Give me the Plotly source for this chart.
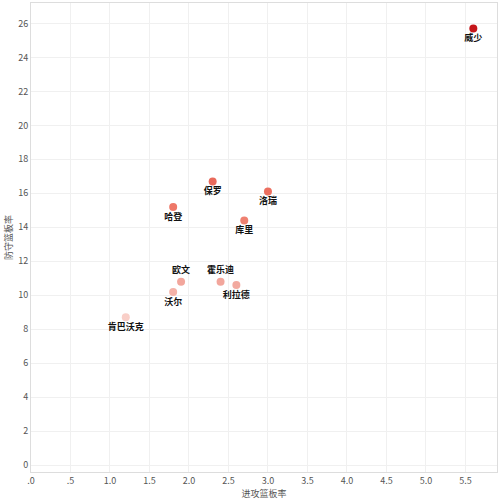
"""Scatter: offensive vs defensive rebound rate of point guards."""

import plotly.graph_objects as go

# data
players = ["威少", "保罗", "洛瑞", "哈登", "库里", "欧文", "霍乐迪", "利拉德", "沃尔", "肯巴沃克"]
off_reb = [5.6, 2.3, 3.0, 1.8, 2.7, 1.9, 2.4, 2.6, 1.8, 1.2]
def_reb = [25.7, 16.7, 16.1, 15.2, 14.4, 10.8, 10.8, 10.6, 10.2, 8.7]
label_pos = ["bottom center"] * 5 + ["top center", "top center"] + ["bottom center"] * 3

x_ticks = [0, 0.5, 1, 1.5, 2, 2.5, 3, 3.5, 4, 4.5, 5, 5.5]
x_tick_text = [".0", ".5", "1.0", "1.5", "2.0", "2.5", "3.0", "3.5", "4.0", "4.5", "5.0", "5.5"]
y_ticks = list(range(0, 27, 2))

FONT = "Noto Sans CJK SC"

fig = go.Figure()
fig.add_trace(
    go.Scatter(
        x=off_reb,
        y=def_reb,
        mode="markers+text",
        text=players,
        textposition=label_pos,
        textfont=dict(family=FONT, size=9, color="#111111", weight="bold"),
        marker=dict(
            size=8,
            color=def_reb,
            colorscale=[[0, "#f9cfc8"], [0.12, "#f2a79d"], [0.4, "#ee7564"], [1, "#c5161a"]],
            cmin=8.7,
            cmax=25.7,
            line=dict(width=0),
        ),
        showlegend=False,
        hovertemplate="%{text}<br>进攻篮板率: %{x}<br>防守篮板率: %{y}<extra></extra>",
    )
)

axis_common = dict(
    showgrid=True,
    gridcolor="#f0f0f0",
    gridwidth=1,
    zeroline=False,
    showline=True,
    linecolor="#dddddd",
    linewidth=1,
    mirror=True,
    ticks="",
    automargin=False,
    tickfont=dict(family=FONT, size=9, color="#555555"),
)

fig.update_xaxes(
    range=[0, 5.9],
    tickvals=x_ticks,
    ticktext=x_tick_text,
    title=dict(text="进攻篮板率", font=dict(family=FONT, size=9, color="#555555"), standoff=2),
    **axis_common,
)
fig.update_yaxes(
    range=[-0.4, 27.2],
    tickvals=y_ticks,
    title=dict(text="防守篮板率", font=dict(family=FONT, size=9, color="#555555"), standoff=4),
    **axis_common,
)

fig.update_layout(
    width=500,
    height=500,
    margin=dict(l=31, r=3, t=3, b=28),
    plot_bgcolor="white",
    paper_bgcolor="white",
    font=dict(family=FONT),
)

fig.write_html(
    "out.html",
    config={"displayModeBar": False},
    post_script="document.body.style.margin='0';",
)
